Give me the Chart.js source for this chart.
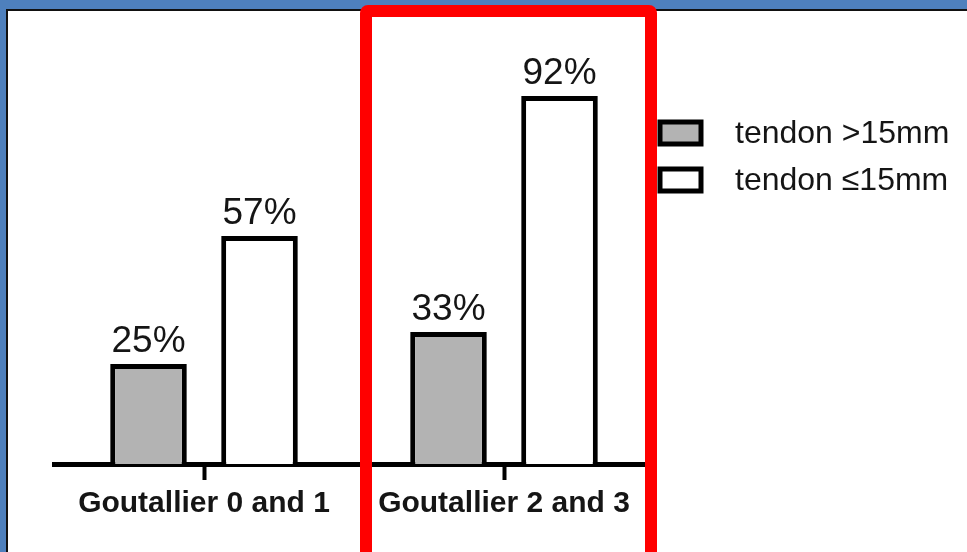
<!DOCTYPE html>
<html>
<head>
<meta charset="utf-8">
<script src="https://cdn.jsdelivr.net/npm/chart.js@4.4.1/dist/chart.umd.min.js"></script>
<style>
  html, body { margin: 0; padding: 0; }
  body { width: 967px; height: 552px; background: #4e80bd; position: relative; overflow: hidden; }
  #panel { position: absolute; left: 6px; top: 9px; right: -10px; bottom: -10px; background: #fff;
           border-top: 2px solid #111; border-left: 2px solid #111; }
  #wrap { position: absolute; left: 0; top: 0; width: 967px; height: 552px; }
  #highlight { position: absolute; left: 360px; top: 5px; width: 297px; height: 580px; box-sizing: border-box;
               border: 12px solid #ff0000; border-radius: 8px; z-index: 5; }
</style>
</head>
<body>
<div id="panel"></div>
<div id="wrap"><canvas id="c" width="967" height="552"></canvas></div>
<div id="highlight"></div>
<script>
// Fatty infiltration groups and share of patients per tendon-length group (%)
const categories = ['Goutallier 0 and 1', 'Goutallier 2 and 3'];
const seriesNames = ['tendon >15mm', 'tendon \u226415mm'];
const longTendon = [25, 33];
const shortTendon = [57, 92];

const FONT = '"Liberation Sans", Arial, Helvetica, sans-serif';

// Percent values written above each bar
const valueLabels = {
  id: 'valueLabels',
  afterDatasetsDraw(chart) {
    const ctx = chart.ctx;
    ctx.save();
    ctx.font = '37px ' + FONT;
    ctx.fillStyle = '#151515';
    ctx.textAlign = 'center';
    ctx.textBaseline = 'alphabetic';
    chart.data.datasets.forEach((ds, i) => {
      chart.getDatasetMeta(i).data.forEach((bar, j) => {
        ctx.fillText(ds.data[j] + '%', bar.x, bar.y - 12);
      });
    });
    ctx.restore();
  }
};

// Legend box list at the right of the plot
const sideLegend = {
  id: 'sideLegend',
  afterDraw(chart) {
    const ctx = chart.ctx;
    ctx.save();
    const x0 = 660, y0 = 122, rowGap = 47, bw = 41, bh = 22;
    chart.data.datasets.forEach((ds, i) => {
      const y = y0 + i * rowGap;
      ctx.fillStyle = ds.backgroundColor;
      ctx.fillRect(x0, y, bw, bh);
      ctx.lineWidth = 5;
      ctx.strokeStyle = '#000';
      ctx.strokeRect(x0, y, bw, bh);
      ctx.font = '32px ' + FONT;
      ctx.fillStyle = '#151515';
      ctx.textAlign = 'left';
      ctx.textBaseline = 'middle';
      ctx.fillText(ds.label, 735, y + bh / 2 + 1);
    });
    ctx.restore();
  }
};

new Chart(document.getElementById('c'), {
  type: 'bar',
  data: {
    labels: categories,
    datasets: [
      { label: seriesNames[0], data: longTendon, backgroundColor: '#b3b3b3', borderColor: '#000', borderWidth: 5, borderSkipped: 'bottom' },
      { label: seriesNames[1], data: shortTendon, backgroundColor: '#ffffff', borderColor: '#000', borderWidth: 5, borderSkipped: 'bottom' }
    ]
  },
  options: {
    responsive: false,
    animation: false,
    events: [],
    layout: { padding: { left: 54, right: 313, top: 64, bottom: 28 } },
    datasets: { bar: { categoryPercentage: 0.74, barPercentage: 0.69 } },
    plugins: { legend: { display: false }, tooltip: { enabled: false } },
    scales: {
      x: {
        offset: true,
        afterFit(scale) { scale.height = 60; },
        border: { display: true, color: '#000', width: 5 },
        grid: { display: true, drawOnChartArea: false, drawTicks: true, offset: false,
                tickLength: 16, tickWidth: 4, tickColor: '#000' },
        ticks: { color: '#151515', padding: 6, font: { family: FONT, size: 30, weight: 'bold' } }
      },
      y: {
        display: false,
        min: 0,
        max: 100
      }
    }
  },
  plugins: [valueLabels, sideLegend]
});
</script>
</body>
</html>
